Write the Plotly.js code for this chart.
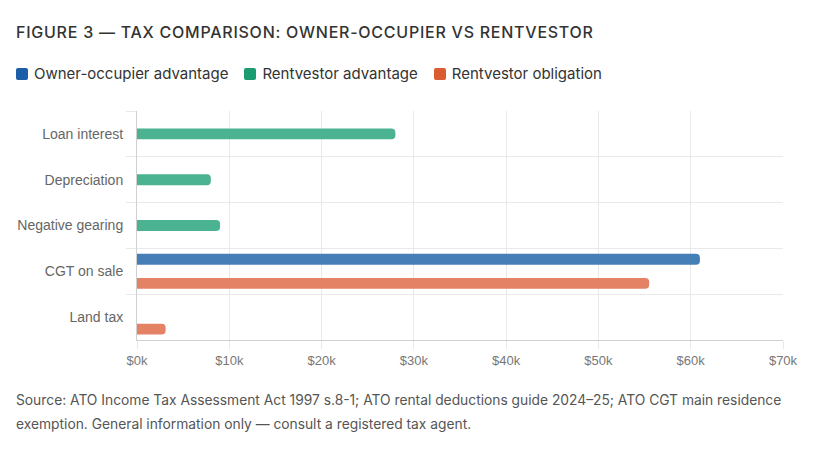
<!DOCTYPE html>
<html>
<head>
<meta charset="utf-8">
<script src="https://cdn.plot.ly/plotly-3.0.1.min.js"></script>
<style>
  html, body { margin: 0; padding: 0; background: #fff; }
  #wrap { position: relative; width: 816px; height: 452px; overflow: hidden; font-family: Inter, "Noto Sans", sans-serif; }
  #title { position: absolute; left: 16px; top: 22px; font-size: 16px; font-weight: 500; color: #333; letter-spacing: 0.75px; white-space: nowrap; }
  #legend { position: absolute; left: 16px; top: 64px; font-size: 15px; color: #333; white-space: nowrap; display: flex; }
  .li { display: flex; align-items: center; margin-right: 16px; }
  .sw { width: 12px; height: 12px; border-radius: 2px; margin-right: 6px; }
  #chart { position: absolute; left: 0; top: 0; width: 816px; height: 452px; }
  #note { position: absolute; left: 16px; top: 388px; width: 790px; font-size: 13.8px; line-height: 24px; color: #555; }
</style>
</head>
<body>
<div id="wrap">
  <div id="chart"></div>
  <div id="title">FIGURE 3 — TAX COMPARISON: OWNER-OCCUPIER VS RENTVESTOR</div>
  <div id="legend"></div>
  <div id="note">Source: ATO Income Tax Assessment Act 1997 s.8-1; ATO rental deductions guide 2024–25; ATO CGT main residence exemption. General information only — consult a registered tax agent.</div>
</div>
<script>
const categories = ["Loan interest", "Depreciation", "Negative gearing", "CGT on sale", "Land tax"];
const seriesNames = ["Owner-occupier advantage", "Rentvestor advantage", "Rentvestor obligation"];
const ownerAdvantage = [null, null, null, 61000, null];
const rentvestorAdvantage = [28000, 8000, 9000, null, null];
const rentvestorObligation = [null, null, null, 55500, 3100];
const tickValues = [0, 10000, 20000, 30000, 40000, 50000, 60000, 70000];
const tickLabels = ["$0k", "$10k", "$20k", "$30k", "$40k", "$50k", "$60k", "$70k"];

const legendColors = ["#1c5ea8", "#1a9b70", "#d95d30"];
const barColors = ["#467fb8", "#4bb391", "#e48266"];
const seriesValues = [ownerAdvantage, rentvestorAdvantage, rentvestorObligation];

const legend = document.getElementById("legend");
seriesNames.forEach((n, i) => {
  const d = document.createElement("div");
  d.className = "li";
  d.innerHTML = '<span class="sw" style="background:' + legendColors[i] + '"></span>' + n;
  legend.appendChild(d);
});

const traces = seriesValues.map((vals, i) => ({
  type: "bar",
  orientation: "h",
  name: seriesNames[i],
  y: categories,
  x: vals,
  marker: { color: barColors[i], cornerradius: 4 },
  hoverinfo: "skip"
}));

const gridc = "#e9e9e9";
const layout = {
  width: 816, height: 452,
  margin: { l: 137, r: 33, t: 111, b: 112 },
  paper_bgcolor: "rgba(0,0,0,0)",
  plot_bgcolor: "#fff",
  showlegend: false,
  barmode: "group",
  bargap: 0.21,
  bargroupgap: 0.1,
  font: { family: "Liberation Sans, Arial, sans-serif", size: 13, color: "#666" },
  xaxis: {
    range: [0, 70000],
    tickvals: tickValues,
    ticktext: tickLabels,
    showgrid: true, gridcolor: gridc,
    ticks: "outside", ticklen: 8, tickcolor: gridc,
    showline: true, linecolor: "#d0d0d0",
    zeroline: false,
    tickfont: { size: 13, color: "#777" },
    fixedrange: true
  },
  yaxis: {
    type: "category",
    categoryorder: "array",
    categoryarray: categories,
    autorange: "reversed",
    tickson: "boundaries",
    ticks: "outside", ticklen: 10, tickcolor: gridc,
    showgrid: true, gridcolor: gridc,
    showline: true, linecolor: "#d0d0d0",
    tickfont: { size: 14, color: "#666" },
    ticklabelstandoff: 10,
    fixedrange: true
  }
};
Plotly.newPlot("chart", traces, layout, { displayModeBar: false, staticPlot: true });
</script>
</body>
</html>
